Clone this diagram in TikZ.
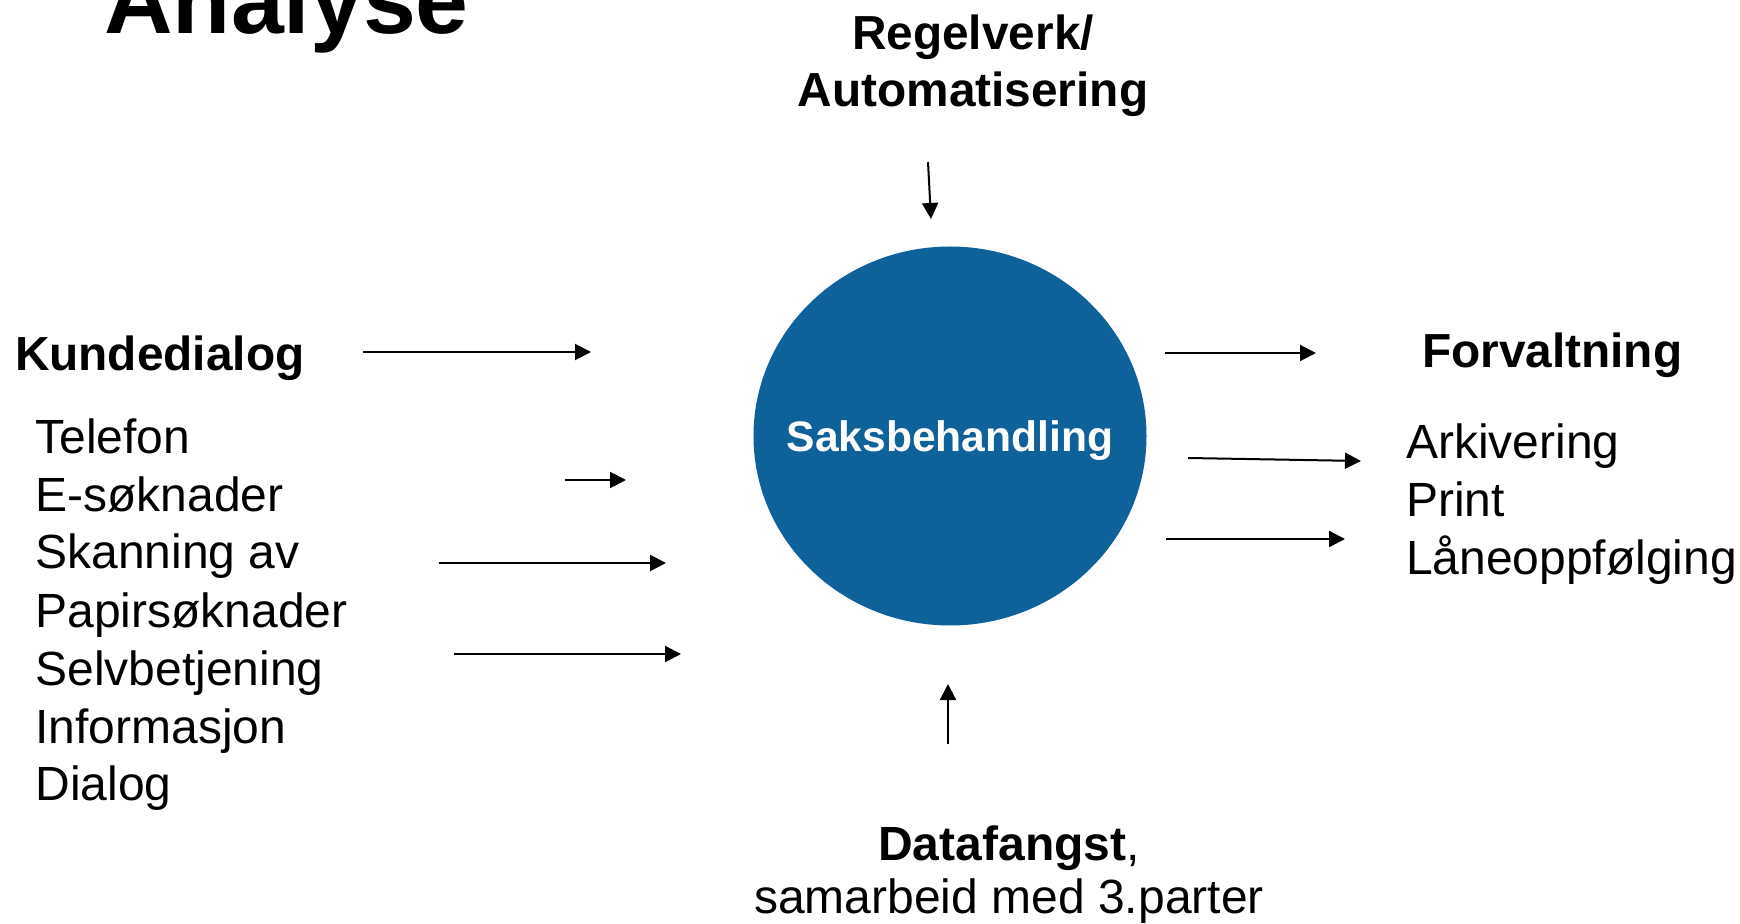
\documentclass[tikz,border=0pt]{standalone}
\usepackage{fontspec}
\setmainfont{Liberation Sans}
\usetikzlibrary{arrows.meta,shapes.geometric}
\definecolor{coreblue}{HTML}{0E6299}
\tikzset{
  lbl/.style={inner sep=0pt, outer sep=0pt, font=\fontsize{24pt}{28.8pt}\selectfont},
  hdr/.style={lbl, font=\fontsize{23.9pt}{28.7pt}\selectfont\bfseries},
  flow/.style={line width=1pt, -{Triangle[length=8pt,width=8pt]}},
}
\begin{document}
\begin{tikzpicture}[x=0.5pt,y=-0.5pt]
\useasboundingbox (0,0) rectangle (1740,924);
% title
\node[inner sep=0pt, anchor=base west, font=\fontsize{47.5pt}{57pt}\selectfont\bfseries] (title) at (104,34) {Analyse};
% centre
\node[ellipse, fill=coreblue, draw=none, inner sep=0pt, minimum width=196.5pt, minimum height=189.5pt] (core) at (950,436) {};
\node[inner sep=0pt, anchor=base, text=white, font=\fontsize{21.3pt}{25pt}\selectfont\bfseries] (coretext) at (950,452) {Saksbehandling};
% top
\node[hdr, anchor=base] (reg1) at (973,50) {Regelverk/};
\node[hdr, anchor=base] (reg2) at (973,107) {Automatisering};
% left
\node[hdr, anchor=base west] (kunde) at (15,371) {Kundedialog};
\node[lbl, anchor=base west] (l1) at (35.5,454) {Telefon};
\node[lbl, anchor=base west] (l2) at (35.5,512) {E-søknader};
\node[lbl, anchor=base west] (l3) at (35.5,569) {Skanning av};
\node[lbl, anchor=base west] (l4) at (35.5,627) {Papirsøknader};
\node[lbl, anchor=base west] (l5) at (35.5,685) {Selvbetjening};
\node[lbl, anchor=base west] (l6) at (35.5,743) {Informasjon};
\node[lbl, anchor=base west] (l7) at (35.5,800) {Dialog};
% right
\node[hdr, anchor=base west] (forv) at (1422,368) {Forvaltning};
\node[lbl, anchor=base west] (r1) at (1406,459) {Arkivering};
\node[lbl, anchor=base west] (r2) at (1406,517) {Print};
\node[lbl, anchor=base west] (r3) at (1406,575) {Låneoppfølging};
% bottom
\node[lbl, anchor=base] (data1) at (1009,860) {\textbf{Datafangst},};
\node[lbl, anchor=base] (data2) at (1009,913) {samarbeid med 3.parter};
% arrow end points
\coordinate (kA) at (363,352);  \coordinate (kB) at (591,352);
\coordinate (tA) at (565,480);  \coordinate (tB) at (626,480);
\coordinate (sA) at (439,563);  \coordinate (sB) at (666,563);
\coordinate (bA) at (454,654);  \coordinate (bB) at (681,654);
\coordinate (gA) at (928,162);  \coordinate (gB) at (931,219);
\coordinate (dA) at (948,744);  \coordinate (dB) at (948,684);
\coordinate (fA) at (1165,353); \coordinate (fB) at (1316,353);
\coordinate (aA) at (1188,458); \coordinate (aB) at (1361,461);
\coordinate (pA) at (1166,539); \coordinate (pB) at (1345,539);
\draw[flow] (kA) -- (kB);
\draw[flow] (tA) -- (tB);
\draw[flow] (sA) -- (sB);
\draw[flow] (bA) -- (bB);
\draw[flow] (gA) -- (gB);
\draw[flow] (dA) -- (dB);
\draw[flow] (fA) -- (fB);
\draw[flow] (aA) -- (aB);
\draw[flow] (pA) -- (pB);
\end{tikzpicture}
\end{document}
